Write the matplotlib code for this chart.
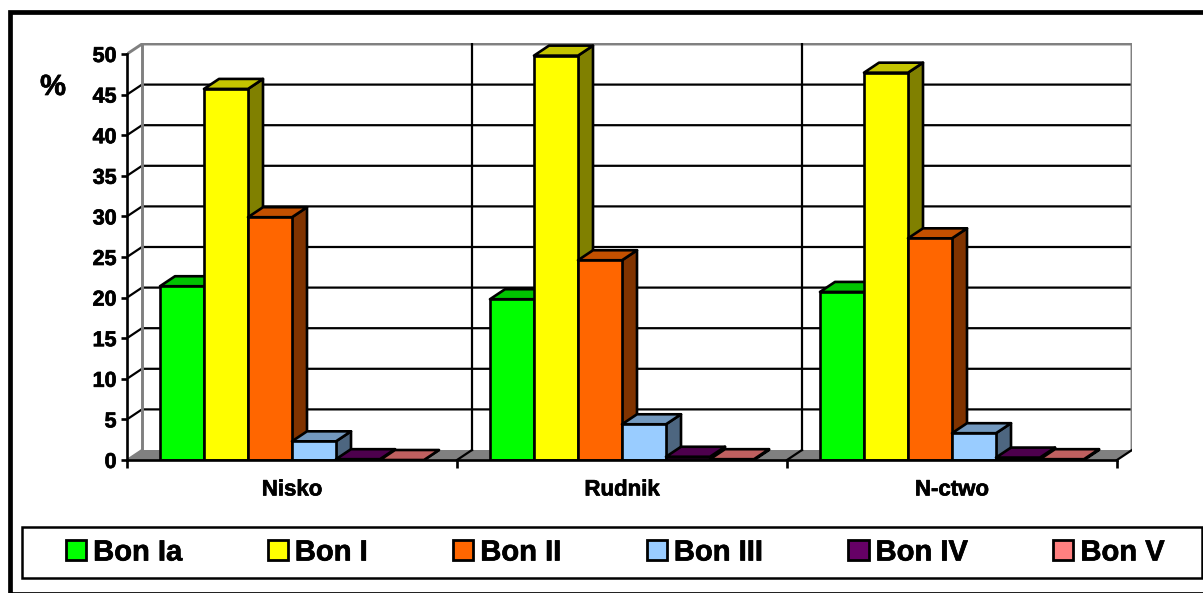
import matplotlib
matplotlib.use('Agg')
import matplotlib.pyplot as plt
import matplotlib.patheffects as pe
from matplotlib.patches import Patch, Polygon, Rectangle

plt.rcParams['font.family'] = ['Liberation Sans', 'DejaVu Sans']
plt.rcParams['font.weight'] = 'bold'

categories = ['Nisko', 'Rudnik', 'N-ctwo']
series_names = ['Bon Ia', 'Bon I', 'Bon II', 'Bon III', 'Bon IV', 'Bon V']
bon_ia = [21.4, 19.8, 20.7]
bon_i = [45.7, 49.8, 47.7]
bon_ii = [29.9, 24.6, 27.3]
bon_iii = [2.3, 4.4, 3.3]
bon_iv = [0.1, 0.4, 0.3]
bon_v = [0.0, 0.1, 0.1]
series = [bon_ia, bon_i, bon_ii, bon_iii, bon_iv, bon_v]
y_ticks = [0, 5, 10, 15, 20, 25, 30, 35, 40, 45, 50]

front = ['#00FF00', '#FFFF00', '#FF6600', '#99CCFF', '#660066', '#FF8080']
top = ['#00C400', '#C4C400', '#C45000', '#7399BF', '#4D004D', '#BF6060']
side = ['#008000', '#808000', '#803300', '#4D6680', '#330033', '#804040']

W, H = 1203, 593
fig = plt.figure(figsize=(W / 100, H / 100), dpi=100)
# plot box in pixels: front left 127, floor 460, back right 1132, back top 43
ax = fig.add_axes([127 / W, 1 - 460 / H, 1005 / W, 417 / H])
ax.patch.set_visible(False)

# one category is 330 px, one y unit is 8.12 px, depth is 15 px / 10 px
dx = 15 / 330
dy = 10 / 8.12
ax.set_xlim(0, 1005 / 330)
ax.set_ylim(0, 417 / 8.12)

lw = 1.9
grid_lw = 1.6
gray = '#808080'
heavy = [pe.withStroke(linewidth=0.5, foreground='k')]

# floor and walls
ax.add_patch(Polygon([(0, 0), (3, 0), (3 + dx, dy), (dx, dy)], fc=gray, ec='none', zorder=1))
for v in y_ticks[1:-1]:
    ax.plot([0, dx, 3 + dx], [v, v + dy, v + dy], color='k', lw=grid_lw, zorder=2)
ax.plot([0, dx, 3 + dx, 3 + dx], [50, 50 + dy, 50 + dy, dy], color=gray, lw=2.1, zorder=2)
ax.plot([dx, dx], [dy, 50 + dy], color=gray, lw=2.1, zorder=2)
ax.plot([0, dx], [0, dy], color=gray, lw=grid_lw, zorder=2)
for i in [1, 2]:
    ax.plot([i + dx, i + dx], [dy, 50 + dy], color='k', lw=grid_lw, zorder=2)
for i in [1, 2, 3]:
    ax.plot([i, i + dx], [0, dy], color='k', lw=grid_lw, zorder=2)

# bars, as front / top / side faces
gap = 0.1
w = 0.8 / len(series)
z = 3
for i in range(len(categories)):
    for j, vals in enumerate(series):
        x0 = i + gap + j * w
        x1 = x0 + w
        v = vals[i]
        ax.add_patch(Polygon([(x1, 0), (x1 + dx, dy), (x1 + dx, v + dy), (x1, v)],
                             fc=side[j], ec='k', lw=lw, zorder=z, joinstyle='round'))
        ax.add_patch(Polygon([(x0, v), (x1, v), (x1 + dx, v + dy), (x0 + dx, v + dy)],
                             fc=top[j], ec='k', lw=lw, zorder=z, joinstyle='round'))
        ax.add_patch(Polygon([(x0, 0), (x1, 0), (x1, v), (x0, v)],
                             fc=front[j], ec='k', lw=lw, zorder=z, joinstyle='round'))
        z += 1

for s in ['top', 'right']:
    ax.spines[s].set_visible(False)
ax.spines['left'].set_bounds(0, 50)
ax.spines['bottom'].set_bounds(0, 3)
for s in ['left', 'bottom']:
    ax.spines[s].set_linewidth(lw)
    ax.spines[s].set_zorder(100)

ax.set_yticks(y_ticks)
ax.tick_params(axis='y', length=4.5, width=lw, pad=3, labelsize=15.5)
ax.set_xticks([0, 1, 2, 3])
ax.set_xticklabels([])
ax.tick_params(axis='x', which='major', length=6, width=lw)
ax.set_xticks([0.5, 1.5, 2.5], minor=True)
ax.set_xticklabels(categories, minor=True)
ax.tick_params(axis='x', which='minor', length=0, pad=14, labelsize=16)
for t in ax.get_yticklabels() + ax.get_xticklabels(minor=True):
    t.set_path_effects(heavy)

fig.text(53 / W, 1 - 87 / H, '%', fontsize=21, ha='center', va='center', path_effects=heavy)

# outer frame, the right side runs off the picture
fig.add_artist(Rectangle((10 / W, 1 - 593.5 / H), 1300 / W, 581.5 / H, transform=fig.transFigure,
                         fc='none', ec='k', lw=3.4))

# legend box and entries
fig.add_artist(Rectangle((22 / W, 1 - 578 / H), 1180 / W, 51 / H, transform=fig.transFigure,
                         fc='white', ec='k', lw=1.8))
handles = [Patch(fc=c, ec='k', lw=2.0) for c in front]
leg = fig.legend(handles, series_names, ncol=6, frameon=False, fontsize=21,
                 loc='center left', bbox_to_anchor=(66 / W, 1 - 552.5 / H), borderaxespad=0, borderpad=0,
                 handlelength=0.69, handleheight=0.69, handletextpad=0.24, columnspacing=2.93)
for t in leg.get_texts():
    t.set_path_effects(heavy)

fig.savefig('out.png', dpi=100)
